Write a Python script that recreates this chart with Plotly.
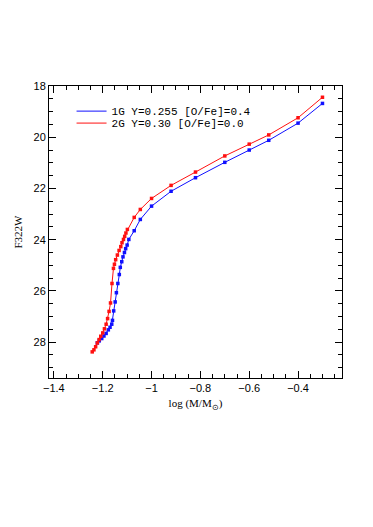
import plotly.graph_objects as go

# 1G isochrone: Y=0.255 [O/Fe]=0.4
logm_1g = [-0.30, -0.40, -0.52, -0.60, -0.70, -0.82, -0.92, -1.00, -1.046, -1.071,
           -1.093, -1.100, -1.106, -1.111, -1.117, -1.122, -1.128, -1.132, -1.138,
           -1.144, -1.149, -1.155, -1.160, -1.163, -1.170, -1.177, -1.186, -1.195,
           -1.204, -1.214, -1.222]
mag_1g = [18.68, 19.45, 20.12, 20.50, 20.98, 21.58, 22.11, 22.69, 23.21, 23.65,
          23.99, 24.21, 24.35, 24.50, 24.67, 24.86, 25.08, 25.36, 25.71,
          26.07, 26.43, 26.78, 27.15, 27.30, 27.42, 27.52, 27.66, 27.76,
          27.86, 27.95, 28.03]

# 2G isochrone: Y=0.30 [O/Fe]=0.0
logm_2g = [-0.30, -0.40, -0.52, -0.60, -0.70, -0.82, -0.92, -1.00, -1.046, -1.071,
           -1.099, -1.105, -1.110, -1.115, -1.121, -1.126, -1.133, -1.140, -1.147,
           -1.152, -1.156, -1.162, -1.168, -1.174, -1.180, -1.186, -1.193, -1.200,
           -1.208, -1.215, -1.222, -1.229, -1.236, -1.243]
mag_2g = [18.44, 19.24, 19.91, 20.27, 20.73, 21.36, 21.88, 22.39, 22.82, 23.13,
          23.60, 23.74, 23.87, 23.99, 24.12, 24.27, 24.42, 24.60, 24.78,
          24.96, 25.12, 25.71, 26.47, 26.80, 27.08, 27.30, 27.48, 27.64,
          27.77, 27.90, 28.03, 28.18, 28.30, 28.38]

series = [
    ("1G Y=0.255 [O/Fe]=0.4", logm_1g, mag_1g, "#1010ff", "legend", 0.914),
    ("2G Y=0.30 [O/Fe]=0.0", logm_2g, mag_2g, "#ff1010", "legend2", 0.873),
]

fig = go.Figure()
legend_font = dict(family="Liberation Mono", size=11, color="black")
for name, xs, ys, color, leg, ly in series:
    # data with markers, no legend entry
    fig.add_trace(go.Scatter(
        x=xs, y=ys, mode="lines+markers", showlegend=False,
        line=dict(color=color, width=1),
        marker=dict(symbol="square", size=3.5, color=color),
    ))
    # legend entry: line only, one legend per row so rows sit close together
    fig.add_trace(go.Scatter(
        x=[None], y=[None], mode="lines", name=name, legend=leg,
        line=dict(color=color, width=1),
    ))
    fig.update_layout({leg: dict(
        x=0.077, y=ly, xanchor="left", yanchor="middle",
        bgcolor="rgba(0,0,0,0)", font=legend_font, itemwidth=30,
    )})

axis_common = dict(
    showline=True, linecolor="black", linewidth=1, mirror="allticks",
    ticks="inside", ticklen=7, tickwidth=1, tickcolor="black",
    showgrid=False, zeroline=False, automargin=False,
    tickfont=dict(family="Liberation Sans", size=11, color="black"),
)

# the page body adds 8px, so margins are offset to keep the frame in place
fig.update_layout(
    width=373, height=527,
    margin=dict(l=41, r=39, t=78, b=157),
    paper_bgcolor="white", plot_bgcolor="white",
    font=dict(family="Liberation Serif", color="black"),
    xaxis=dict(
        range=[-1.42, -0.22], tickvals=[-1.4, -1.2, -1.0, -0.8, -0.6, -0.4],
        minor=dict(dtick=0.05, ticks="inside", ticklen=4, tickcolor="black"),
        title=dict(text="log (M/M<sub>⊙</sub>)", font=dict(family="Liberation Serif", size=11),
                   standoff=6),
        **axis_common,
    ),
    yaxis=dict(
        range=[29.4, 18], dtick=2, tick0=18,
        minor=dict(dtick=0.5, ticks="inside", ticklen=4, tickcolor="black"),
        title=dict(text="F322W", font=dict(family="Liberation Serif", size=11),
                   standoff=8),
        **axis_common,
    ),
)

fig.write_html("out.html")
